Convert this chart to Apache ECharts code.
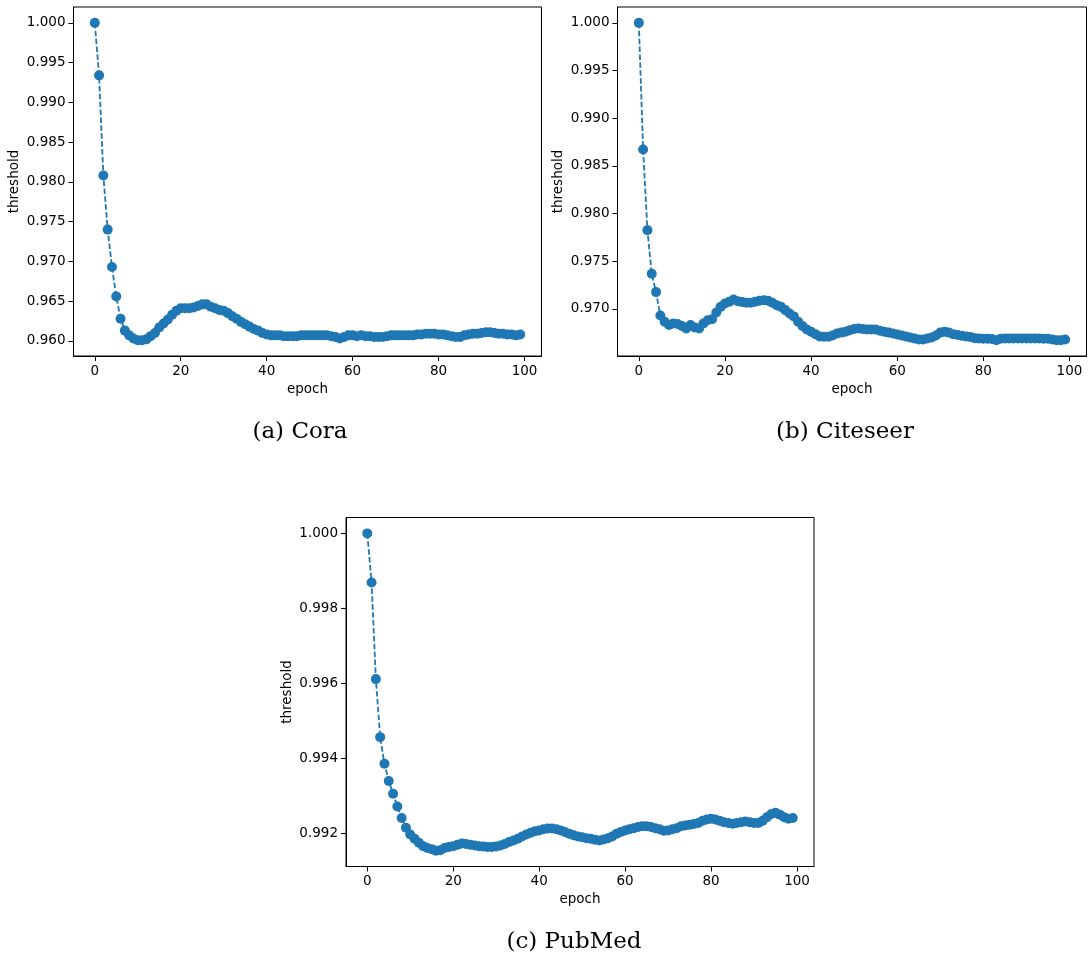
<!DOCTYPE html>
<html>
<head>
<meta charset="utf-8">
<script src="https://cdn.jsdelivr.net/npm/echarts@6/dist/echarts.min.js"></script>
<style>
html,body{margin:0;padding:0;background:#fff;}
#chart{width:1090px;height:960px;}
</style>
</head>
<body>
<div id="chart"></div>
<script>
// ---- data ----
const xTicks = [0, 20, 40, 60, 80, 100];
const coraTicks = [0.960, 0.965, 0.970, 0.975, 0.980, 0.985, 0.990, 0.995, 1.000];
const citeseerTicks = [0.970, 0.975, 0.980, 0.985, 0.990, 0.995, 1.000];
const pubmedTicks = [0.992, 0.994, 0.996, 0.998, 1.000];
const captions = ['(a) Cora', '(b) Citeseer', '(c) PubMed'];

const cora = [
  1.0000, 0.9934, 0.9808, 0.9740, 0.9693, 0.9656, 0.9628, 0.9613, 0.9607, 0.9603,
  0.9601, 0.9601, 0.9602, 0.9606, 0.9610, 0.9617, 0.9622, 0.9627, 0.9633, 0.9638,
  0.9641, 0.9641, 0.9641, 0.9642, 0.9644, 0.9646, 0.9646, 0.9643, 0.9641, 0.9639,
  0.9638, 0.9635, 0.9631, 0.9628, 0.9624, 0.9621, 0.9618, 0.9615, 0.9613, 0.9610,
  0.9608, 0.9607, 0.9607, 0.9607, 0.9606, 0.9606, 0.9606, 0.9606, 0.9607, 0.9607,
  0.9607, 0.9607, 0.9607, 0.9607, 0.9607, 0.9606, 0.9605, 0.9603, 0.9605, 0.9607,
  0.9607, 0.9606, 0.9607, 0.9606, 0.9606, 0.9605, 0.9605, 0.9605, 0.9606, 0.9607,
  0.9607, 0.9607, 0.9607, 0.9607, 0.9607, 0.9608, 0.9608, 0.9609, 0.9609, 0.9609,
  0.9608, 0.9608, 0.9607, 0.9606, 0.9605, 0.9605, 0.9607, 0.9608, 0.9609, 0.9609,
  0.9610, 0.9611, 0.9611, 0.9610, 0.9609, 0.9609, 0.9608, 0.9608, 0.9607, 0.9608
];
const citeseer = [
  1.00000, 0.98671, 0.97825, 0.97367, 0.97175, 0.96930, 0.96864, 0.96829, 0.96846, 0.96840,
  0.96820, 0.96794, 0.96830, 0.96804, 0.96794, 0.96846, 0.96880, 0.96890, 0.96960, 0.97020,
  0.97056, 0.97073, 0.97098, 0.97080, 0.97070, 0.97063, 0.97063, 0.97073, 0.97084, 0.97090,
  0.97084, 0.97063, 0.97038, 0.97020, 0.96986, 0.96950, 0.96920, 0.96864, 0.96820, 0.96783,
  0.96759, 0.96734, 0.96710, 0.96706, 0.96706, 0.96720, 0.96741, 0.96750, 0.96760, 0.96776,
  0.96787, 0.96794, 0.96787, 0.96783, 0.96783, 0.96783, 0.96770, 0.96760, 0.96750, 0.96740,
  0.96730, 0.96720, 0.96710, 0.96699, 0.96689, 0.96678, 0.96678, 0.96689, 0.96699, 0.96720,
  0.96750, 0.96760, 0.96750, 0.96734, 0.96724, 0.96717, 0.96710, 0.96703, 0.96692, 0.96689,
  0.96685, 0.96685, 0.96682, 0.96671, 0.96685, 0.96689, 0.96689, 0.96689, 0.96689, 0.96689,
  0.96689, 0.96689, 0.96689, 0.96689, 0.96685, 0.96685, 0.96678, 0.96671, 0.96671, 0.96678
];
const pubmed = [
  1.00000, 0.99869, 0.99611, 0.99456, 0.99385, 0.99339, 0.99305, 0.99271, 0.99240, 0.99214,
  0.99196, 0.99185, 0.99174, 0.99165, 0.99160, 0.99157, 0.99153, 0.99154, 0.99160, 0.99163,
  0.99165, 0.99169, 0.99172, 0.99171, 0.99169, 0.99167, 0.99165, 0.99164, 0.99163, 0.99163,
  0.99164, 0.99167, 0.99171, 0.99176, 0.99180, 0.99185, 0.99191, 0.99196, 0.99201, 0.99205,
  0.99207, 0.99210, 0.99212, 0.99212, 0.99210, 0.99207, 0.99203, 0.99198, 0.99194, 0.99191,
  0.99189, 0.99186, 0.99185, 0.99182, 0.99180, 0.99183, 0.99186, 0.99191, 0.99198, 0.99203,
  0.99207, 0.99210, 0.99213, 0.99216, 0.99218, 0.99218, 0.99216, 0.99213, 0.99210, 0.99206,
  0.99207, 0.99210, 0.99213, 0.99218, 0.99220, 0.99222, 0.99224, 0.99227, 0.99233, 0.99236,
  0.99238, 0.99236, 0.99233, 0.99229, 0.99227, 0.99225, 0.99227, 0.99229, 0.99231, 0.99229,
  0.99227, 0.99227, 0.99233, 0.99242, 0.99251, 0.99254, 0.99249, 0.99242, 0.99238, 0.99240
];

// ---- chart ----
const BLUE = '#1f77b4';
const FONT = 'DejaVu Sans';
const grids = [
  {left: 73.5, top: 7, width: 468, height: 349},
  {left: 617.5, top: 7, width: 469, height: 349},
  {left: 346, top: 517.5, width: 468, height: 349}
];
const yRanges = [
  [0.958105, 1.001995],
  [0.965045, 1.001665],
  [0.991107, 1.000424]
];
const yTickSets = [coraTicks, citeseerTicks, pubmedTicks];
const seriesData = [cora, citeseer, pubmed];

function pairs(arr){ return arr.map((v, i) => [i, v]); }

const option = {
  backgroundColor: '#ffffff',
  animation: false,
  grid: grids.map(g => Object.assign({show: true, borderColor: '#000', borderWidth: 1, backgroundColor: 'transparent'}, g)),
  xAxis: grids.map((g, i) => ({
    type: 'value', gridIndex: i, min: -4.95, max: 103.95,
    name: 'epoch', nameLocation: 'middle', nameGap: 26,
    nameTextStyle: {fontFamily: FONT, fontSize: 13.5, color: '#000'},
    splitLine: {show: false},
    axisLine: {show: true, onZero: false, lineStyle: {color: '#000', width: 1}},
    axisTick: {show: true, length: 5, lineStyle: {color: '#000'}, customValues: xTicks},
    axisLabel: {fontFamily: FONT, fontSize: 13.5, color: '#000', margin: 8, customValues: xTicks, formatter: v => String(v)}
  })),
  yAxis: grids.map((g, i) => ({
    type: 'value', gridIndex: i, min: yRanges[i][0], max: yRanges[i][1],
    name: 'threshold', nameLocation: 'middle', nameGap: 52,
    nameTextStyle: {fontFamily: FONT, fontSize: 13.5, color: '#000'},
    splitLine: {show: false},
    axisLine: {show: true, onZero: false, lineStyle: {color: '#000', width: 1}},
    axisTick: {show: true, length: 5, lineStyle: {color: '#000'}, customValues: yTickSets[i]},
    axisLabel: {fontFamily: FONT, fontSize: 13.5, color: '#000', margin: 8, customValues: yTickSets[i], formatter: v => v.toFixed(3)}
  })),
  series: seriesData.map((d, i) => ({
    type: 'line', xAxisIndex: i, yAxisIndex: i,
    data: pairs(d),
    symbol: 'circle', symbolSize: 10, showSymbol: true, showAllSymbol: true,
    lineStyle: {color: BLUE, width: 1.8, type: [5.5, 2.4]},
    itemStyle: {color: BLUE, borderWidth: 0},
    emphasis: {disabled: true}
  })),
  graphic: [
    {type: 'text', x: 300, y: 432, style: {text: captions[0], align: 'center', verticalAlign: 'middle', font: '23px "DejaVu Serif"', fill: '#000'}},
    {type: 'text', x: 845, y: 432, style: {text: captions[1], align: 'center', verticalAlign: 'middle', font: '23px "DejaVu Serif"', fill: '#000'}},
    {type: 'text', x: 574, y: 942, style: {text: captions[2], align: 'center', verticalAlign: 'middle', font: '23px "DejaVu Serif"', fill: '#000'}}
  ]
};

const chart = echarts.init(document.getElementById('chart'), null, {renderer: 'canvas'});
chart.setOption(option);
</script>
</body>
</html>
